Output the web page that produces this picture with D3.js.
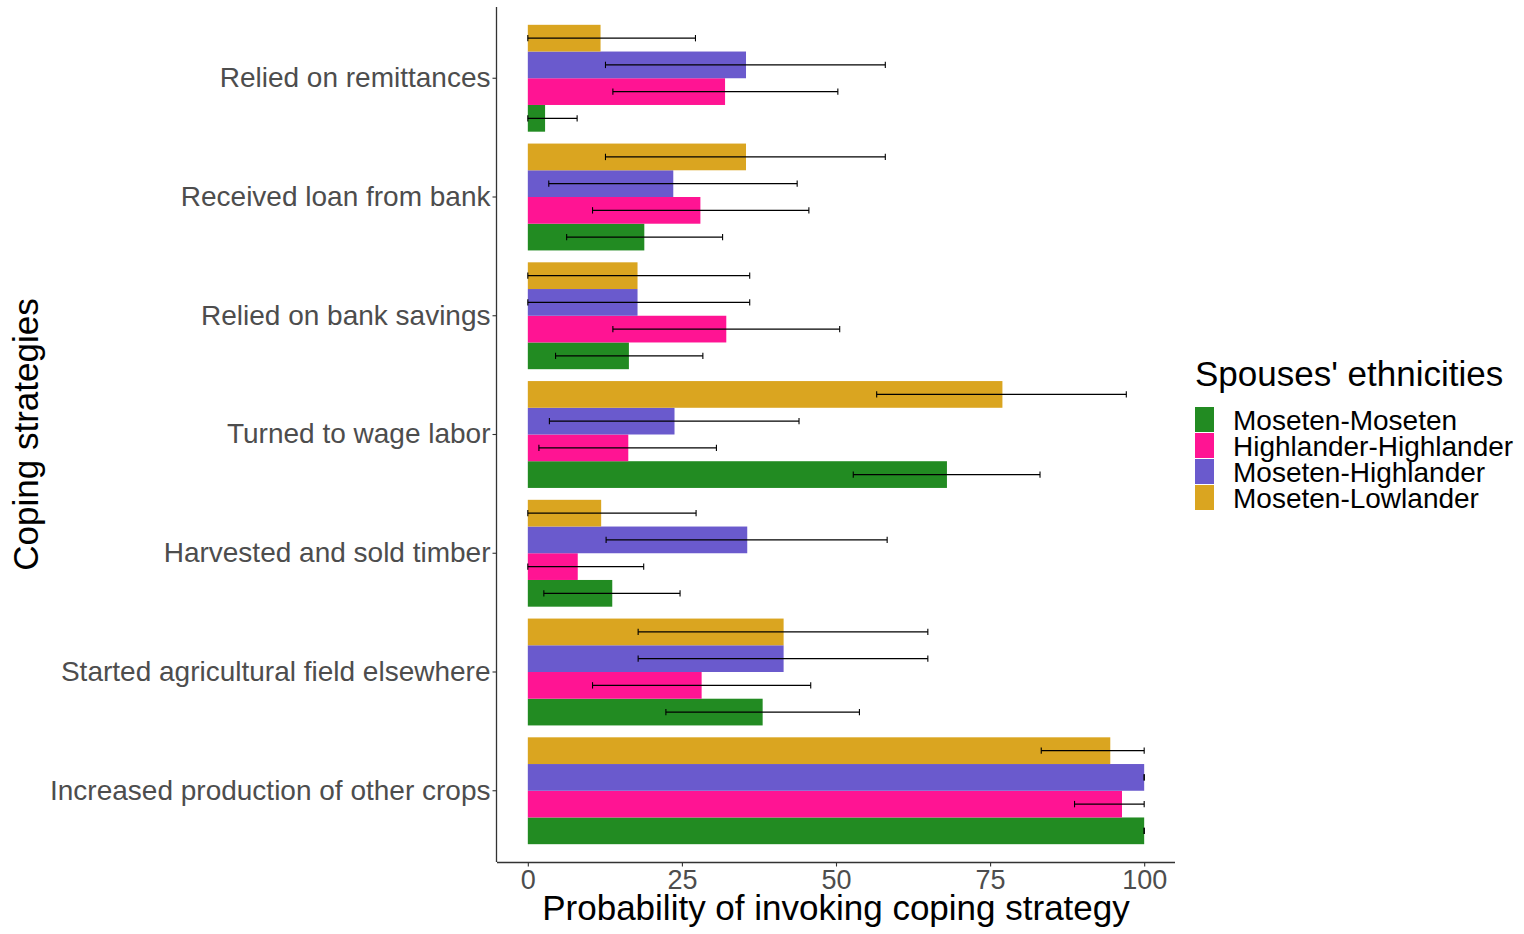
<!DOCTYPE html>
<html>
<head>
<meta charset="utf-8">
<script src="https://cdn.jsdelivr.net/npm/d3@7"></script>
<style>
  html, body { margin: 0; padding: 0; background: #ffffff; }
  svg { display: block; font-family: "Liberation Sans", Arial, Helvetica, sans-serif; }
</style>
</head>
<body>
<svg id="chart" width="1524" height="934"></svg>
<script>
// ---------------- data ----------------
const categories = [
  "Relied on remittances",
  "Received loan from bank",
  "Relied on bank savings",
  "Turned to wage labor",
  "Harvested and sold timber",
  "Started agricultural field elsewhere",
  "Increased production of other crops"
];
const groups = ["Moseten-Moseten", "Highlander-Highlander", "Moseten-Highlander", "Moseten-Lowlander"];
const groupColors = ["#228B22", "#FF1493", "#6A5ACD", "#DAA520"];

const valMM = [2.8, 18.9, 16.4, 68.0, 13.7, 38.1, 100];
const lowMM = [0, 6.3, 4.5, 52.8, 2.6, 22.4, 100];
const upMM  = [8.0, 31.6, 28.4, 83.1, 24.7, 53.8, 100];

const valHH = [32.0, 28.0, 32.2, 16.3, 8.1, 28.2, 96.4];
const lowHH = [13.8, 10.5, 13.8, 1.8, 0, 10.5, 88.7];
const upHH  = [50.3, 45.6, 50.6, 30.6, 18.8, 45.9, 100];

const valMH = [35.4, 23.6, 17.8, 23.8, 35.6, 41.5, 100];
const lowMH = [12.6, 3.4, 0, 3.5, 12.7, 17.9, 100];
const upMH  = [58.0, 43.7, 36.0, 44.0, 58.3, 64.9, 100];

const valML = [11.8, 35.4, 17.8, 77.0, 11.9, 41.5, 94.5];
const lowML = [0, 12.6, 0, 56.6, 0, 17.9, 83.3];
const upML  = [27.2, 58.0, 36.0, 97.1, 27.3, 64.9, 100];

const xTicks = [0, 25, 50, 75, 100];

const xTitle = "Probability of invoking coping strategy";
const yTitle = "Coping strategies";
const legendTitle = "Spouses' ethnicities";

// ---------------- build rows ----------------
const seriesVals = [valMM, valHH, valMH, valML];
const seriesLow  = [lowMM, lowHH, lowMH, lowML];
const seriesUp   = [upMM, upHH, upMH, upML];
const rows = [];
categories.forEach((c, i) => {
  groups.forEach((g, j) => {
    rows.push({ cat: c, group: g, value: seriesVals[j][i], low: seriesLow[j][i], up: seriesUp[j][i] });
  });
});

// ---------------- layout ----------------
const panel = { left: 497, right: 1175, top: 7, bottom: 862 };
const svg = d3.select("#chart");

const x = d3.scaleLinear().domain([-5, 105]).range([panel.left, panel.right]);
const y = d3.scaleBand().domain(categories).range([panel.top, panel.bottom]).paddingInner(0).paddingOuter(0.1);
const step = y.step();
const sub = d3.scaleBand().domain(groups.slice().reverse()).range([-0.45 * step, 0.45 * step]).padding(0);
const color = d3.scaleOrdinal().domain(groups).range(groupColors);

const yCenter = c => y(c) + y.bandwidth() / 2;

// bars
svg.append("g").selectAll("rect").data(rows).join("rect")
  .attr("x", d => x(0))
  .attr("y", d => yCenter(d.cat) + sub(d.group))
  .attr("width", d => x(d.value) - x(0))
  .attr("height", sub.bandwidth())
  .attr("fill", d => color(d.group));

// error bars
const capH = 3.2;
const eb = svg.append("g").attr("stroke", "#000").attr("stroke-width", 1.1).attr("fill", "none");
rows.forEach(d => {
  const cy = yCenter(d.cat) + sub(d.group) + sub.bandwidth() / 2;
  eb.append("line").attr("x1", x(d.low)).attr("x2", x(d.up)).attr("y1", cy).attr("y2", cy);
  eb.append("line").attr("x1", x(d.low)).attr("x2", x(d.low)).attr("y1", cy - capH).attr("y2", cy + capH);
  eb.append("line").attr("x1", x(d.up)).attr("x2", x(d.up)).attr("y1", cy - capH).attr("y2", cy + capH);
});

// x axis
const xAxis = d3.axisBottom(x).tickValues(xTicks).tickSize(4.5).tickPadding(4).tickFormat(d3.format("d"));
const gx = svg.append("g").attr("transform", `translate(0,${panel.bottom})`).call(xAxis);
gx.select(".domain").attr("d", `M${panel.left},0.5H${panel.right}`).attr("stroke", "#333").attr("stroke-width", 1.3);
gx.selectAll(".tick line").attr("stroke", "#333").attr("stroke-width", 1.1);
gx.selectAll(".tick text").attr("fill", "#4D4D4D").attr("font-size", 27)
  .attr("font-family", "'Liberation Sans', Arial, sans-serif")
  .attr("y", 26.5).attr("dy", 0);

// y axis
const yAxis = d3.axisLeft(y).tickSize(4.5).tickPadding(2);
const gy = svg.append("g").attr("transform", `translate(${panel.left},0)`).call(yAxis);
gy.select(".domain").attr("d", `M-0.5,${panel.top}V${panel.bottom}`).attr("stroke", "#333").attr("stroke-width", 1.3);
gy.selectAll(".tick line").attr("stroke", "#333").attr("stroke-width", 1.1);
gy.selectAll(".tick text").attr("fill", "#4D4D4D").attr("font-size", 28)
  .attr("font-family", "'Liberation Sans', Arial, sans-serif");

// axis titles
svg.append("text")
  .attr("x", (panel.left + panel.right) / 2).attr("y", 920)
  .attr("text-anchor", "middle").attr("font-size", 35).attr("fill", "#000")
  .text(xTitle);
svg.append("text")
  .attr("transform", `translate(38,${(panel.top + panel.bottom) / 2}) rotate(-90)`)
  .attr("text-anchor", "middle").attr("font-size", 35).attr("fill", "#000")
  .text(yTitle);

// legend
const lg = svg.append("g").attr("transform", "translate(1195,0)");
lg.append("text").attr("x", 0).attr("y", 386).attr("font-size", 35).attr("fill", "#000").text(legendTitle);
const keyTop = 407, keyH = 26;
groups.forEach((g, i) => {
  lg.append("rect").attr("x", 0).attr("y", keyTop + i * keyH).attr("width", 19).attr("height", keyH - 1)
    .attr("fill", color(g));
  lg.append("text").attr("x", 38).attr("y", keyTop + i * keyH + keyH / 2 + 10)
    .attr("font-size", 28).attr("fill", "#000").text(g);
});
</script>
</body>
</html>
